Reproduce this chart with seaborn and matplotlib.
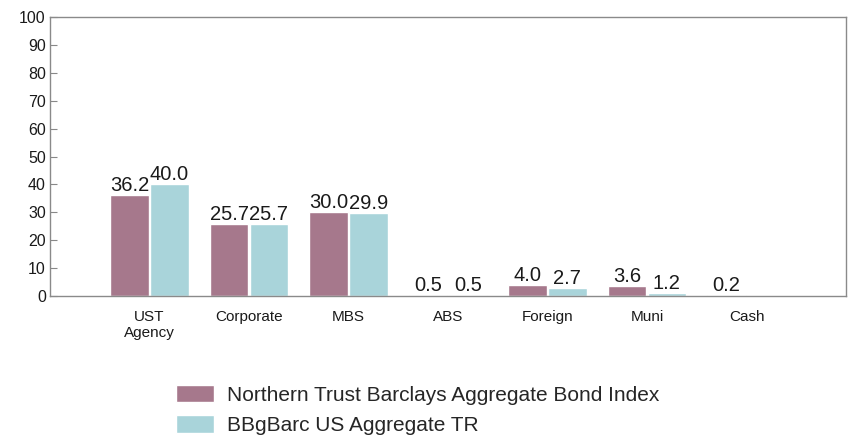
import matplotlib
matplotlib.use("Agg")
import matplotlib.pyplot as plt
import seaborn as sns
import pandas as pd

categories = ["UST\nAgency", "Corporate", "MBS", "ABS", "Foreign", "Muni", "Cash"]
series_names = ["Northern Trust Barclays Aggregate Bond Index", "BBgBarc US Aggregate TR"]
northern = [36.2, 25.7, 30.0, 0.5, 4.0, 3.6, 0.2]
bbg = [40.0, 25.7, 29.9, 0.5, 2.7, 1.2, 0.0]
yticks = [0, 10, 20, 30, 40, 50, 60, 70, 80, 90, 100]
colors = ["#a6788c", "#a9d4da"]

sns.set_theme(style="white")
plt.rcParams["font.family"] = ["Liberation Sans", "DejaVu Sans"]

df = pd.DataFrame({
    "category": categories * 2,
    "value": northern + bbg,
    "series": [series_names[0]] * len(categories) + [series_names[1]] * len(categories),
})

fig = plt.figure(figsize=(8.48, 4.40), dpi=100)
ax = fig.add_axes([50 / 848, 1 - 296 / 440, (846 - 50) / 848, (296 - 17) / 440])
sns.barplot(data=df, x="category", y="value", hue="series", order=categories,
            hue_order=series_names, palette=colors, width=0.8, gap=0.04,
            saturation=1, ax=ax, legend=True)

for container, vals in zip(ax.containers, [northern, bbg]):
    labels = [f"{v:.1f}" if v > 0 else "" for v in vals]
    ax.bar_label(container, labels=labels, padding=0, fontsize=14.5, color="#1a1a1a")

ax.set_xlim(-1, 7)
ax.set_ylim(0, 100)
ax.set_yticks(yticks)
ax.set_yticklabels([str(t) for t in yticks], fontsize=11.5, color="#1a1a1a")
ax.set_xlabel("")
ax.set_ylabel("")
ax.tick_params(axis="x", length=0, labelsize=11, labelcolor="#1a1a1a", pad=10)
ax.tick_params(axis="y", direction="in", length=5, width=0.8, color="#888888", pad=3, left=True)
for s in ax.spines.values():
    s.set_visible(True)
    s.set_color("#8a8a8a")
    s.set_linewidth(1.0)

handles, lbls = ax.get_legend_handles_labels()
ax.get_legend().remove()
fig.legend(handles, lbls, loc="upper left", bbox_to_anchor=(176 / 848, 1 - 385 / 440),
           frameon=False, fontsize=15, handlelength=1.8, handleheight=0.9,
           handletextpad=0.65, labelspacing=0.5, borderpad=0, borderaxespad=0)

fig.savefig("out.png", dpi=100)
